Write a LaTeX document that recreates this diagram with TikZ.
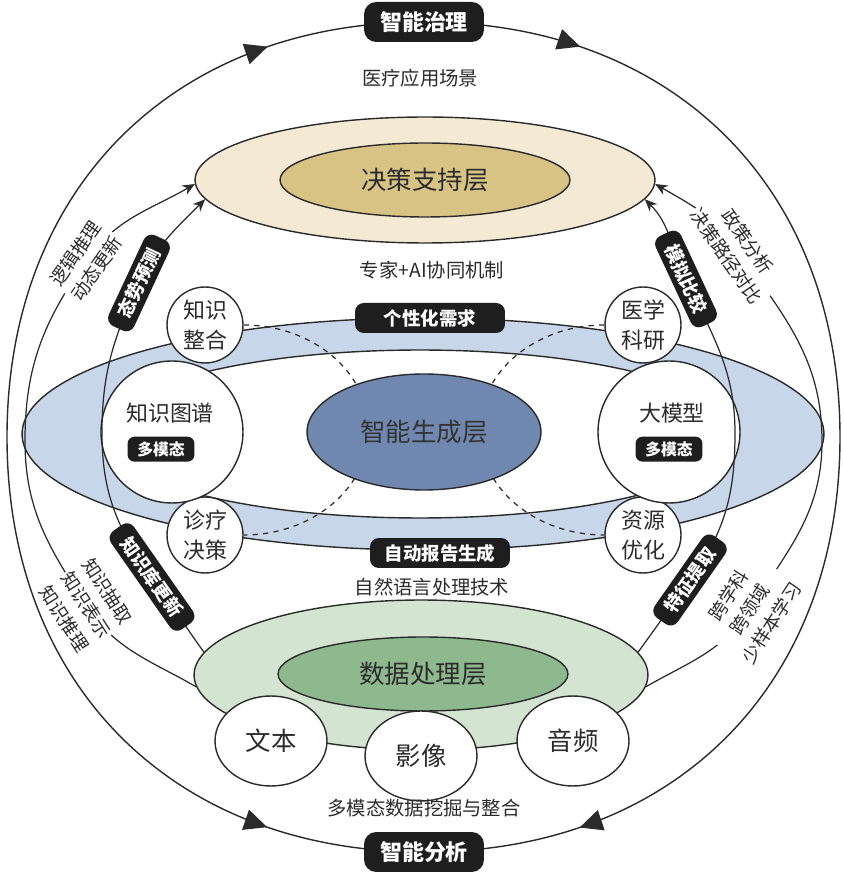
\documentclass[tikz,border=0pt]{standalone}
\usepackage{fontspec}
\setmainfont{Noto Sans CJK SC}
\usepackage{xcolor}
\usepackage{tikz}
\usetikzlibrary{shapes.geometric, arrows.meta, positioning, decorations.markings}

\definecolor{ink}{HTML}{2B2B2B}
\definecolor{beigeout}{HTML}{F4EAD3}
\definecolor{beigein}{HTML}{D7C383}
\definecolor{blueout}{HTML}{C8D6EA}
\definecolor{bluein}{HTML}{7088B0}
\definecolor{greenout}{HTML}{D3E5D0}
\definecolor{greenin}{HTML}{8EB88D}
\definecolor{pillfill}{HTML}{1E1E1E}

\tikzstyle{ring}     = [ellipse, draw=ink, line width=0.8pt, inner sep=0pt,
                        text=ink, font=\fontsize{14.5}{16}\selectfont]
\tikzstyle{bubble}   = [circle, draw=ink, line width=0.8pt, fill=white,
                        inner sep=0pt, align=center, text=ink,
                        font=\fontsize{12.5}{17}\selectfont]
\tikzstyle{source}   = [ellipse, draw=ink, line width=0.8pt, fill=white,
                        minimum width=2.24cm, minimum height=1.8cm, inner sep=0pt,
                        text=ink, font=\fontsize{14.5}{16}\selectfont]
\tikzstyle{pill}     = [rectangle, rounded corners=5pt, fill=pillfill, text=white,
                        inner sep=0pt, font=\bfseries\fontsize{10.5}{12}\selectfont]
\tikzstyle{bigpill}  = [pill, rounded corners=7pt, minimum width=2.4cm,
                        minimum height=0.8cm, font=\bfseries\fontsize{12.5}{14}\selectfont]
\tikzstyle{sidepill} = [pill, minimum width=2.0cm, minimum height=0.56cm]
\tikzstyle{modepill} = [pill, rounded corners=4pt, minimum width=1.34cm,
                        minimum height=0.5cm, font=\bfseries\fontsize{9}{10}\selectfont]
\tikzstyle{note}     = [text=ink, font=\fontsize{11}{13}\selectfont]
\tikzstyle{sidenote} = [note, align=center, fill=white, inner sep=1pt,
                        font=\fontsize{10.5}{14.5}\selectfont]
\tikzstyle{arrow}    = [line width=0.7pt, draw=ink, -{Stealth[length=7pt, width=6pt]}]
\tikzstyle{outerloop}= [line width=0.8pt, draw=ink, postaction={decorate},
  decoration={markings,
    mark=at position 0.06 with {\arrow{Triangle[length=13pt, width=12pt]}},
    mark=at position 0.44 with {\arrow{Triangle[length=13pt, width=12pt]}},
    mark=at position 0.56 with {\arrowreversed{Triangle[length=13pt, width=12pt]}},
    mark=at position 0.94 with {\arrow{Triangle[length=13pt, width=12pt]}}}]

\begin{document}
\begin{tikzpicture}[x=0.02cm, y=0.02cm]
\useasboundingbox (0,0) rectangle (843,873);

% outer cycle
\coordinate (looptop)    at (424,851);
\coordinate (loopright)  at (840,436);
\coordinate (loopbottom) at (424,21);
\coordinate (loopleft)   at (7,436);
\draw [outerloop] (looptop) .. controls (674,851) and (840,685) .. (loopright)
                            .. controls (840,187) and (674,21) .. (loopbottom)
                            .. controls (174,21) and (7,187) .. (loopleft)
                            .. controls (7,685) and (174,851) .. (looptop);

% generation layer
\node (genring)  [ring, fill=blueout, minimum width=16.04cm, minimum height=4.64cm] at (423,439) {};
\node (genwhite) [ring, fill=white, minimum width=12.72cm, minimum height=3.36cm] at (420,439) {};

\node (integ)    [bubble, minimum size=1.52cm] at (205,548) {知识\\整合};
\node (research) [bubble, minimum size=1.52cm] at (643,548) {医学\\科研};
\node (clinic)   [bubble, minimum size=1.52cm] at (205,338) {诊疗\\决策};
\node (resource) [bubble, minimum size=1.52cm] at (643,338) {资源\\优化};
\node (kg)       [bubble, minimum size=2.84cm] at (172,441) {};
\node (llm)      [bubble, minimum size=2.84cm] at (669,441) {};

\draw [dashed, line width=0.7pt, draw=ink] (integ.east) arc[start angle=90, end angle=-90, x radius=125, y radius=105];
\draw [dashed, line width=0.7pt, draw=ink] (research.west) arc[start angle=90, end angle=270, x radius=125, y radius=105];

\node (gen) [ring, fill=bluein, text=black!80, minimum width=4.68cm, minimum height=2.32cm] at (424,441) {智能生成层};

\node (kgname)  [note, font=\fontsize{12.5}{14}\selectfont] at (170,460) {知识图谱};
\node (kgmode)  [modepill, below=0.14cm of kgname, xshift=-0.18cm] {多模态};
\node (llmname) [note, font=\fontsize{12.5}{14}\selectfont] at (672,460) {大模型};
\node (llmmode) [modepill, below=0.14cm of llmname, xshift=-0.06cm] {多模态};

\node (need)   [pill, minimum width=3.0cm, minimum height=0.6cm] at (430,555) {个性化需求};
\node (report) [pill, minimum width=2.8cm, minimum height=0.6cm] at (440,320) {自动报告生成};

% decision layer
\node (dec)   [ring, fill=beigeout, minimum width=9.2cm, minimum height=2.52cm] at (425,693) {};
\node (decin) [ring, fill=beigein, minimum width=5.8cm, minimum height=1.48cm] at (425,693) {决策支持层};

% data layer
\node (data)   [ring, fill=greenout, minimum width=9.08cm, minimum height=3.0cm] at (421,198) {};
\node (datain) [ring, fill=greenin, minimum width=5.8cm, minimum height=1.48cm] at (423,199) {数据处理层};
\node (srctext)  [source] at (271,132) {文本};
\node (srcimg)   [source] at (421,117) {影像};
\node (srcaudio) [source] at (573,132) {音频};

% captions
\node (scene)  [note] at (420,795) {医疗应用场景};
\node (expert) [note] at (432,603) {专家+AI协同机制};
\node (nlp)    [note] at (432,286) {自然语言处理技术};
\node (mining) [note] at (424,65)  {多模态数据挖掘与整合};

% side links
\coordinate (kbpos)    at (152,296);
\coordinate (trendpos) at (139,590);
\coordinate (featpos)  at (690,293);
\coordinate (simpos)   at (686,594);
\coordinate (lbend)    at (102,440);
\coordinate (rbend)    at (735,440);
\coordinate (lnotelow) at (86,268);
\coordinate (lnotehi)  at (86,612);
\coordinate (rnotelow) at (750,264);
\coordinate (rnotehi)  at (737,624);
\coordinate (lfar)     at (25,432);
\coordinate (rfar)     at (822,432);

\draw [arrow] (data.174) to[out=126, in=-54] (kbpos) to[out=126, in=-90] (lbend)
              to[out=90, in=245] (trendpos) to[out=65, in=225] (dec.185);
\draw [arrow] (data.6) to[out=54, in=234] (featpos) to[out=54, in=-90] (rbend)
              to[out=90, in=-65] (simpos) to[out=115, in=-45] (dec.355);

\draw [arrow] (data.183) to[out=150, in=-57] (lnotelow) to[out=123, in=-90] (lfar)
              to[out=90, in=235] (lnotehi) to[out=55, in=210] (dec.181);
\draw [arrow] (data.357) to[out=30, in=237] (rnotelow) to[out=57, in=-90] (rfar)
              to[out=90, in=-55] (rnotehi) to[out=125, in=-30] (dec.359);

\node (logic)  [sidenote, rotate=55]  at (lnotehi)  {逻辑推理\\动态更新};
\node (policy) [sidenote, rotate=-55] at (rnotehi)  {政策分析\\决策路径对比};
\node (know)   [sidenote, rotate=-57] at (lnotelow) {知识抽取\\知识表示\\知识推理};
\node (cross)  [sidenote, rotate=57]  at (rnotelow) {跨学科\\跨领域\\少样本学习};

\node (kb)    [sidepill, rotate=-55, minimum width=2.4cm] at (kbpos) {知识库更新};
\node (trend) [sidepill, rotate=65]  at (trendpos) {态势预测};
\node (feat)  [sidepill, rotate=55]  at (featpos)  {特征提取};
\node (sim)   [sidepill, rotate=-65] at (simpos)   {模拟比较};

% cycle labels
\node (govern)  [bigpill] at (looptop)    {智能治理};
\node (analyse) [bigpill] at (loopbottom) {智能分析};

\end{tikzpicture}
\end{document}
